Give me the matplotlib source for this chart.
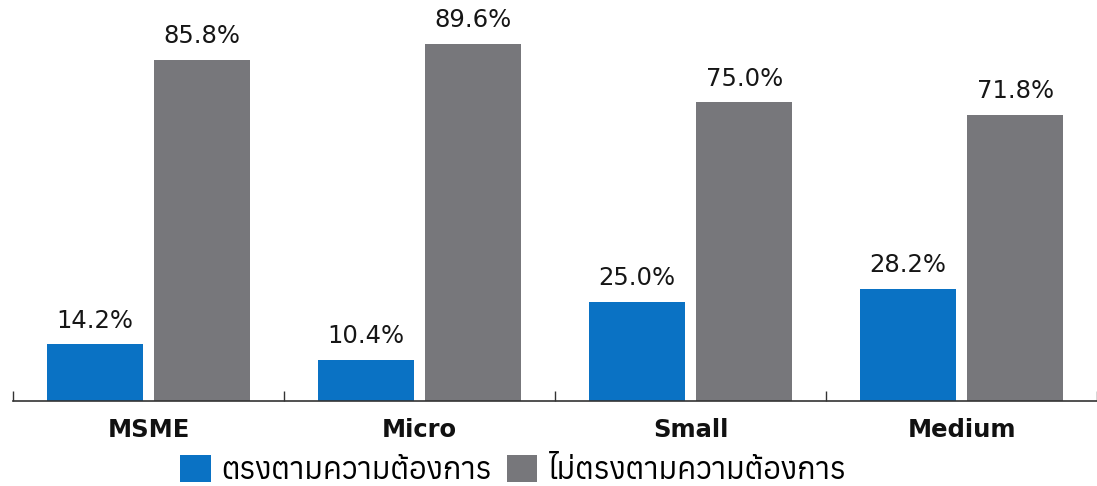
import matplotlib
matplotlib.use('Agg')
import matplotlib.pyplot as plt
from matplotlib import font_manager
from matplotlib.ft2font import FT2Font
import numpy as np

categories = ['MSME', 'Micro', 'Small', 'Medium']
match_pct = [14.2, 10.4, 25.0, 28.2]
no_match_pct = [85.8, 89.6, 75.0, 71.8]
series_names = ['ตรงตามความต้องการ', 'ไม่ตรงตามความต้องการ']

# find an installed family that has Thai glyphs
thai_fams = []
for f in font_manager.fontManager.ttflist:
    try:
        if ord('ต') in FT2Font(f.fname).get_charmap():
            thai_fams.append(f.name)
    except Exception:
        pass
thai_fams = sorted(set(thai_fams))
plt.rcParams['font.family'] = ['DejaVu Sans']

blue = '#0a72c4'
grey = '#77777b'

fig = plt.figure(figsize=(10.97, 4.86), dpi=100)
ax = fig.add_axes([13 / 1097, 85 / 486, 1084 / 1097, 398 / 486])

x = np.arange(len(categories))
w = 0.356
off = 0.198
b1 = ax.bar(x - off, match_pct, w, color=blue)
b2 = ax.bar(x + off, no_match_pct, w, color=grey)

for bars, vals in [(b1, match_pct), (b2, no_match_pct)]:
    for r, v in zip(bars, vals):
        ax.text(r.get_x() + r.get_width() / 2, v + 3.0, '{:.1f}%'.format(v),
                ha='center', va='bottom', fontsize=17.5, color='#161616')

ax.set_xlim(-0.5, 3.478)
ax.set_ylim(0, 100)
for s in ['top', 'right', 'left']:
    ax.spines[s].set_visible(False)
ax.spines['bottom'].set_color('#333333')
ax.spines['bottom'].set_linewidth(1.2)
ax.set_yticks([])
ax.set_xticks(np.arange(-0.5, 4, 1))
ax.tick_params(axis='x', direction='in', length=7, color='#333333', width=1, labelbottom=False)
for i, c in enumerate(categories):
    ax.text(i, -4.3, c, ha='center', va='top', fontsize=17.5, fontweight='bold', color='#111111')

fig.legend([b1, b2], series_names, loc='lower center', bbox_to_anchor=(0.468, -0.055),
           ncol=2, frameon=False, handlelength=1.0, handleheight=1.0,
           handletextpad=0.35, columnspacing=0.5,
           prop={'family': thai_fams[:1] + ['DejaVu Sans'], 'size': 22})

fig.savefig('out.png', dpi=100)
